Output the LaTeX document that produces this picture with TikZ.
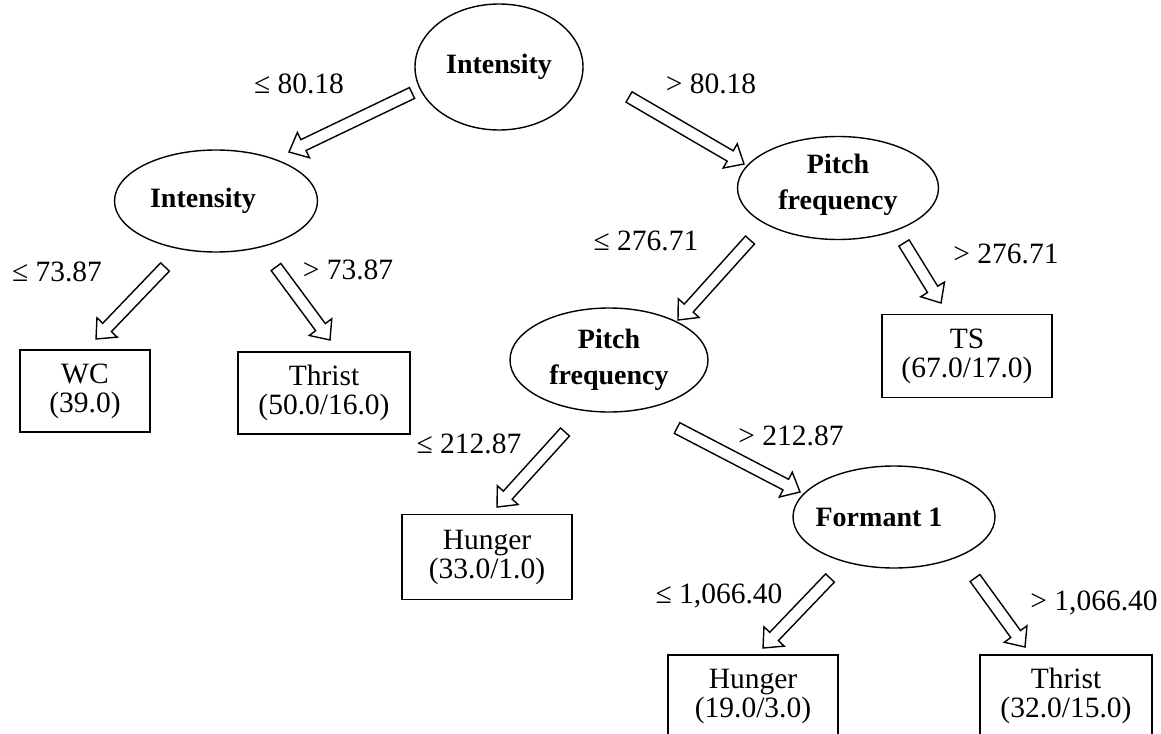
\documentclass[tikz,border=0pt]{standalone}
\usepackage{fontspec}
\setmainfont{Liberation Serif}
\usetikzlibrary{shapes.geometric,calc}
\newcommand\blkarrow[2]{%
  \path ($(#2)!16pt!(#1)$) coordinate (bb);
  \draw[blk] ($(#1)!6pt!90:(#2)$) -- ($(bb)!6pt!90:(#2)$) -- ($(bb)!14pt!90:(#2)$) -- (#2)
    -- ($(bb)!14pt!-90:(#2)$) -- ($(bb)!6pt!-90:(#2)$) -- ($(#1)!6pt!-90:(#2)$) -- cycle;}
\begin{document}
\begin{tikzpicture}[x=1pt,y=-1pt,
  every node/.style={font=\fontsize{29.5}{29}\selectfont},
  dec/.style={ellipse,draw,line width=1.4pt,inner sep=0pt,align=center,
    font=\fontsize{28}{36}\selectfont\bfseries},
  leaf/.style={rectangle,draw,line width=1.1pt,inner sep=0pt,align=center},
  lbl/.style={inner sep=0pt},
  blk/.style={draw,line width=1.4pt,fill=white,line join=miter}]
\useasboundingbox (0,0) rectangle (1161,733);
\clip (0,0) rectangle (1161,733);
% decision nodes
\node[dec,minimum width=168pt,minimum height=126pt] (n1) at (499,67) {Intensity};
\node[dec,minimum width=203pt,minimum height=102pt] (n2) at (216,201) {\hspace*{-13pt}Intensity\hspace*{13pt}};
\node[dec,minimum width=201pt,minimum height=103pt] (n3) at (838,188) {Pitch\\frequency\\[-24pt]};
\node[dec,minimum width=198pt,minimum height=104pt] (n4) at (609,360) {Pitch\\frequency};
\node[dec,minimum width=202pt,minimum height=102pt] (n5) at (894,517) {\hspace*{-15pt}Formant 1\hspace*{15pt}};
% leaves
\node[leaf,minimum width=130pt,minimum height=82pt] (l1) at (85,391) {WC\\(39.0)};
\node[leaf,minimum width=172pt,minimum height=82pt] (l2) at (324,393) {Thrist\\(50.0/16.0)};
\node[leaf,minimum width=170pt,minimum height=83pt] (l3) at (967,356) {TS\\(67.0/17.0)};
\node[leaf,minimum width=170pt,minimum height=85pt] (l4) at (487,557) {Hunger\\(33.0/1.0)};
\node[leaf,minimum width=170pt,minimum height=82pt] (l5) at (753,696) {Hunger\\(19.0/3.0)};
\node[leaf,minimum width=172pt,minimum height=82pt] (l6) at (1066,696) {Thrist\\(32.0/15.0)};
% labels
\node[lbl] (t1) at (299,84) {≤ 80.18};
\node[lbl] (t2) at (711,84) {> 80.18};
\node[lbl] (t3) at (57,272) {≤ 73.87};
\node[lbl] (t4) at (348,270) {> 73.87};
\node[lbl] (t5) at (646,241) {≤ 276.71};
\node[lbl] (t6) at (1006,254) {> 276.71};
\node[lbl] (t7) at (469,444) {≤ 212.87};
\node[lbl] (t8) at (791,436) {> 212.87};
\node[lbl] (t9) at (719,596) {≤ 1,066.40};
\node[lbl] (t10) at (1094,603) {> 1,066.40};
% arrow ends
\coordinate (a1s) at (412,93);  \coordinate (a1t) at (289,152);
\coordinate (a2s) at (629,97);  \coordinate (a2t) at (744,164);
\coordinate (a3s) at (165,267); \coordinate (a3t) at (96,339);
\coordinate (a4s) at (276,267); \coordinate (a4t) at (330,340);
\coordinate (a5s) at (750,240); \coordinate (a5t) at (678,320);
\coordinate (a6s) at (904,243); \coordinate (a6t) at (941,303);
\coordinate (a7s) at (565,432); \coordinate (a7t) at (497,507);
\coordinate (a8s) at (677,428); \coordinate (a8t) at (800,492);
\coordinate (a9s) at (830,578); \coordinate (a9t) at (763,648);
\coordinate (a10s) at (975,578); \coordinate (a10t) at (1025,647);
\blkarrow{a1s}{a1t}
\blkarrow{a2s}{a2t}
\blkarrow{a3s}{a3t}
\blkarrow{a4s}{a4t}
\blkarrow{a5s}{a5t}
\blkarrow{a6s}{a6t}
\blkarrow{a7s}{a7t}
\blkarrow{a8s}{a8t}
\blkarrow{a9s}{a9t}
\blkarrow{a10s}{a10t}
\end{tikzpicture}
\end{document}
